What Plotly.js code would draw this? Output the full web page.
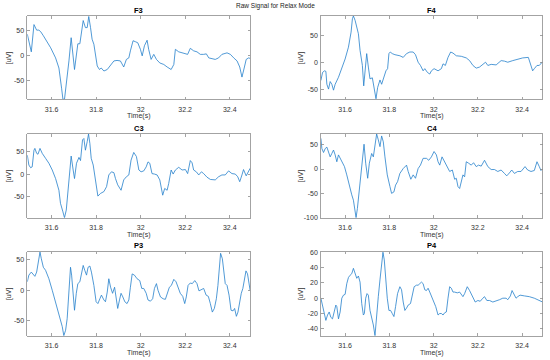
<!DOCTYPE html>
<html><head><meta charset="utf-8">
<script src="https://cdn.plot.ly/plotly-3.0.1.min.js"></script>
<style>html,body{margin:0;padding:0;background:#fff}#c{width:550px;height:360px}</style>
</head><body><div id="c"></div>
<script>
const channels = ['F3','F4','C3','C4','P3','P4'];
const xTicks = [31.6, 31.8, 32, 32.2, 32.4];
const xTickText = ['31.6', '31.8', '32', '32.2', '32.4'];
const yTicks50 = [-100, -50, 0, 50];
const yTickText50 = ['-100', '-50', '0', '50'];
const yTicks20 = [-40, -20, 0, 20, 40, 60];
const yTickText20 = ['-40', '-20', '0', '20', '40', '60'];

const tF3 = [31.491,31.509,31.521,31.533,31.543,31.551,31.563,31.596,31.618,31.633,31.645,31.651,31.658,31.670,31.678,31.688,31.703,31.718,31.727,31.742,31.752,31.760,31.767,31.775,31.782,31.790,31.805,31.815,31.823,31.835,31.850,31.880,31.894,31.909,31.924,31.936,31.947,31.954,31.966,31.977,31.987,31.999,32.007,32.017,32.029,32.036,32.047,32.059,32.071,32.086,32.104,32.119,32.137,32.149,32.156,32.171,32.186,32.201,32.211,32.223,32.238,32.253,32.268,32.283,32.295,32.306,32.320,32.335,32.350,32.365,32.388,32.403,32.418,32.433,32.445,32.455,32.465,32.474,32.485,32.492];
const vF3 = [42,7,61,50,50,47,39,15,-5,-25,-65,-87,-87,-45,-11,35,-28,23,23,69,55,55,77,55,32,22,-21,-28,-25,-31,-28,-11,-10,-11,-23,-8,-5,9,29,27,25,12,-1,19,30,12,-8,2,-8,-15,-18,-23,-28,-18,12,7,5,4,2,14,9,7,2,2,3,-5,-6,-8,-5,2,5,2,-5,-11,-23,-43,-25,-8,-5,-6];

const tF4 = [31.4905,31.498,31.507,31.513,31.5175,31.525,31.5325,31.54,31.5475,31.555,31.57,31.585,31.6,31.615,31.627,31.633,31.6375,31.645,31.6525,31.66,31.6675,31.678,31.684,31.69,31.6975,31.705,31.7125,31.723,31.7305,31.7395,31.747,31.7575,31.765,31.777,31.7845,31.792,31.798,31.804,31.813,31.825,31.8475,31.8625,31.8775,31.8925,31.9075,31.918,31.93,31.9405,31.9525,31.96,31.972,31.9825,31.99,32.002,32.02,32.035,32.0425,32.053,32.065,32.077,32.0875,32.1025,32.125,32.1475,32.1625,32.1775,32.1925,32.2075,32.2225,32.2345,32.245,32.26,32.2825,32.305,32.32,32.335,32.3575,32.38,32.4025,32.428,32.437,32.4475,32.455,32.467,32.4775,32.485,32.4925];
const vF4 = [-34,-19,-16,-17,-41,-50,-36,-41,-52,-41,-28,-12,6,28,56,81,86,78,66,53,22,-6,-44,-9,16,-9,-31,-29,-44,-68,-47,-33,-41,-25,-16,-12,16,19,16,14,12,9,16,19,19,14,0,-6,-16,-12,-19,-22,-16,-12,-16,-12,-3,-6,9,19,17,12,11,8,3,-6,-11,-9,-3,0,-6,-4,-5,3,2,0,3,6,8,9,-3,-16,-12,-6,-6,-3,1];

const tC3 = [31.491,31.498,31.506,31.513,31.521,31.525,31.533,31.539,31.548,31.558,31.573,31.588,31.603,31.618,31.633,31.640,31.651,31.658,31.666,31.675,31.682,31.688,31.697,31.703,31.712,31.723,31.730,31.739,31.745,31.752,31.760,31.766,31.772,31.778,31.787,31.797,31.808,31.820,31.835,31.847,31.857,31.869,31.880,31.887,31.897,31.912,31.924,31.936,31.947,31.957,31.969,31.981,31.992,32.002,32.014,32.025,32.033,32.041,32.051,32.062,32.074,32.086,32.099,32.108,32.119,32.126,32.137,32.146,32.156,32.171,32.186,32.201,32.211,32.223,32.231,32.238,32.250,32.261,32.273,32.283,32.298,32.313,32.335,32.350,32.365,32.380,32.395,32.410,32.425,32.436,32.445,32.455,32.462,32.474,32.485,32.492];
const vC3 = [42,20,14,16,53,57,46,44,57,46,35,24,9,-10,-36,-65,-84,-97,-80,-28,13,40,9,-10,24,37,30,76,79,53,72,89,68,35,20,-10,-49,-43,-39,-28,-2,5,3,-10,-24,-36,-13,-6,-2,31,48,39,9,5,7,16,27,24,1,0,-2,-13,-47,-32,-36,-21,9,0,9,15,9,10,1,30,25,9,5,-2,5,1,-7,-12,-13,-6,-2,-2,7,1,0,-6,-17,-2,10,-4,9,13];

const tC4 = [31.4905,31.495,31.5025,31.51,31.5175,31.525,31.5325,31.54,31.5475,31.555,31.5625,31.57,31.5775,31.585,31.597,31.6075,31.618,31.63,31.6375,31.645,31.6495,31.6555,31.663,31.672,31.6795,31.6855,31.693,31.702,31.7095,31.72,31.7275,31.735,31.7425,31.75,31.7575,31.765,31.7725,31.78,31.7905,31.8025,31.81,31.8205,31.828,31.837,31.8475,31.8625,31.8775,31.885,31.897,31.9075,31.918,31.93,31.9405,31.9525,31.9675,31.978,31.99,32.002,32.0125,32.02,32.0275,32.038,32.05,32.062,32.0725,32.0845,32.095,32.1025,32.11,32.1175,32.125,32.1325,32.14,32.1475,32.158,32.17,32.1805,32.1925,32.203,32.215,32.23,32.245,32.26,32.275,32.29,32.305,32.32,32.3305,32.3425,32.353,32.365,32.38,32.395,32.413,32.425,32.44,32.455,32.467,32.4775,32.485,32.4925];
const vC4 = [63,42,34,42,45,36,25,32,39,29,15,29,22,15,5,-12,-33,-53,-64,-88,-100,-81,-47,-2,32,51,12,-19,12,32,25,49,72,60,46,68,56,25,-12,-36,-50,-47,-33,-26,-9,1,8,-5,-21,-12,-19,1,8,22,22,18,25,36,29,15,8,25,15,5,-5,-2,-21,-19,-36,-40,-23,-12,-16,15,12,8,13,5,8,6,18,5,-1,-1,-5,-2,-9,-14,-8,-2,-9,-5,-5,5,-2,-5,-3,15,5,-3,1];

const tP3 = [31.491,31.498,31.509,31.518,31.525,31.533,31.540,31.548,31.554,31.563,31.573,31.588,31.603,31.618,31.628,31.640,31.648,31.655,31.663,31.670,31.678,31.685,31.690,31.697,31.703,31.711,31.718,31.727,31.735,31.742,31.749,31.757,31.764,31.772,31.779,31.790,31.800,31.808,31.817,31.824,31.835,31.842,31.850,31.857,31.865,31.874,31.883,31.890,31.897,31.905,31.912,31.920,31.929,31.939,31.947,31.954,31.962,31.972,31.984,31.996,32.005,32.014,32.025,32.033,32.044,32.054,32.062,32.071,32.078,32.089,32.101,32.111,32.119,32.129,32.138,32.149,32.159,32.168,32.178,32.189,32.198,32.205,32.213,32.223,32.232,32.243,32.253,32.262,32.273,32.283,32.294,32.304,32.313,32.322,32.331,32.340,32.347,32.353,32.359,32.367,32.373,32.380,32.388,32.397,32.406,32.415,32.422,32.430,32.437,32.445,32.452,32.459,32.467,32.473,32.480,32.486,32.492];
const vP3 = [14,25,30,26,23,30,47,63,52,38,33,19,0,-19,-33,-47,-60,-75,-66,-47,-5,38,25,-8,-33,-5,11,14,27,41,33,25,38,40,30,8,-19,-22,-14,-8,-16,-19,-3,19,5,-5,5,-11,-30,-16,-5,-11,-19,-22,-16,5,27,25,19,16,3,3,-5,-16,-18,-14,3,11,0,-11,-14,-15,-5,5,8,18,14,3,-5,-10,-22,-11,8,12,11,16,11,-1,1,3,-8,-10,-22,-36,-30,-14,8,36,61,52,27,11,8,-8,-33,-34,-30,-43,-36,-16,-5,3,19,32,27,8,-1];

const tP4 = [31.4905,31.498,31.507,31.513,31.5205,31.528,31.5355,31.543,31.5505,31.558,31.5625,31.57,31.5775,31.585,31.5925,31.6,31.6075,31.615,31.6225,31.63,31.6375,31.645,31.6525,31.66,31.6675,31.675,31.6825,31.687,31.693,31.699,31.705,31.7125,31.72,31.7275,31.735,31.7425,31.75,31.7575,31.765,31.771,31.777,31.783,31.7905,31.798,31.8055,31.813,31.8205,31.828,31.837,31.8475,31.855,31.8625,31.87,31.8775,31.885,31.8955,31.903,31.912,31.9225,31.93,31.9375,31.945,31.9525,31.96,31.9675,31.975,31.9825,31.993,32.002,32.0095,32.02,32.0275,32.035,32.0425,32.05,32.0575,32.065,32.0725,32.08,32.0875,32.095,32.107,32.1175,32.125,32.1325,32.14,32.152,32.1625,32.17,32.1775,32.188,32.2,32.2105,32.2225,32.23,32.2405,32.2525,32.2675,32.2825,32.2975,32.3125,32.3275,32.335,32.347,32.3545,32.365,32.3725,32.38,32.3905,32.41,32.4325,32.455,32.4775,32.4925];
const vP4 = [0,-9,-22,-29,-22,-18,-25,-27,-18,-9,-11,-27,-18,0,4,5,19,27,30,32,39,32,26,29,21,-7,-22,-20,0,6,4,-16,-24,-35,-49,-20,2,24,41,60,50,24,0,-16,-16,-20,-24,-11,6,15,11,-5,-16,-13,-9,-7,4,15,17,17,19,21,19,11,10,13,8,0,-5,-11,-22,-20,-20,-22,-19,-18,0,15,13,8,8,7,8,4,2,6,15,10,6,2,-5,-3,-4,0,2,-3,-3,-5,-4,-2,0,0,-2,3,10,4,0,2,4,3,2,0,-3,-5];

const yRanges = {F3:[-87,78], F4:[-69,86], C3:[-97,89], C4:[-100,72], P3:[-75,64], P4:[-49,61]};
const series = {F3:[tF3,vF3], F4:[tF4,vF4], C3:[tC3,vC3], C4:[tC4,vC4], P3:[tP3,vP3], P4:[tP4,vP4]};

const W = 550, H = 360;
const colX = [[27.3, 250.2], [321, 542.5]];
const rowY = [[16, 99.3], [134, 217.7], [251.5, 335.7]];
const boxCol = '#8c8c8c', txtCol = '#333333';
const FONT = 'Liberation Sans, Arial, Helvetica, sans-serif';

const traces = [], layout = {
  width: W, height: H, margin: {l:0, r:0, t:0, b:0},
  paper_bgcolor: '#fff', plot_bgcolor: '#fff', showlegend: false,
  font: {family: FONT, size: 7, color: txtCol},
  annotations: [], 
};
layout.annotations.push({text: 'Raw Signal for Relax Mode', xref:'paper', yref:'paper', x: 275/W, y: 1 - 5.7/H,
  showarrow:false, xanchor:'center', yanchor:'middle', font:{size:6.5, color:'#222', family:FONT}});

channels.forEach((ch, i) => {
  const col = i % 2, row = Math.floor(i / 2);
  const n = i + 1;
  const xa = 'xaxis' + (n === 1 ? '' : n), ya = 'yaxis' + (n === 1 ? '' : n);
  const xr = 'x' + (n === 1 ? '' : n), yr = 'y' + (n === 1 ? '' : n);
  traces.push({x: series[ch][0], y: series[ch][1], type:'scatter', mode:'lines',
    line:{color:'#2580cc', width:0.8}, xaxis: xr, yaxis: yr, hoverinfo:'skip'});
  const xd = [colX[col][0] / W, colX[col][1] / W];
  const yd = [1 - rowY[row][1] / H, 1 - rowY[row][0] / H];
  const isP4 = ch === 'P4';
  layout[xa] = {domain: xd, anchor: yr, range: [31.491, 32.492], tickvals: xTicks, ticktext: xTickText,
    showline:true, mirror:'ticks', linecolor: boxCol, linewidth: 0.8, ticks:'inside', ticklen: 2.5,
    tickcolor: boxCol, tickwidth: 0.8, showgrid:false, zeroline:false, ticklabelstandoff: 3,
    tickfont:{size:7, color:txtCol}, fixedrange:true};
  layout[ya] = {domain: yd, anchor: xr, range: yRanges[ch],
    tickvals: isP4 ? yTicks20 : yTicks50, ticktext: isP4 ? yTickText20 : yTickText50,
    showline:true, mirror:'ticks', linecolor: boxCol, linewidth: 0.8, ticks:'inside', ticklen: 2.5,
    tickcolor: boxCol, tickwidth: 0.8, showgrid:false, zeroline:false, ticklabelstandoff: 1,
    tickfont:{size:7, color:txtCol}, fixedrange:true};
  const cx = (colX[col][0] + colX[col][1]) / 2;
  layout.annotations.push({text: '<b>' + ch + '</b>', xref:'paper', yref:'paper', x: cx / W, y: 1 - (rowY[row][0] - 6) / H,
    showarrow:false, xanchor:'center', yanchor:'middle', font:{size:7.5, color:'#000', family:FONT}});
  layout.annotations.push({text: 'Time(s)', xref:'paper', yref:'paper', x: cx / W, y: 1 - (rowY[row][1] + 17) / H,
    showarrow:false, xanchor:'center', yanchor:'middle', font:{size:7, color:txtCol, family:FONT}});
  const ylx = col === 0 ? 8.5 : 300.5;
  layout.annotations.push({text: '[uV]', xref:'paper', yref:'paper', x: ylx / W, y: 1 - ((rowY[row][0] + rowY[row][1]) / 2) / H,
    showarrow:false, xanchor:'center', yanchor:'middle', textangle: -90, font:{size:7, color:txtCol, family:FONT}});
});

Plotly.newPlot('c', traces, layout, {staticPlot:true, displayModeBar:false});
</script>
</body></html>
